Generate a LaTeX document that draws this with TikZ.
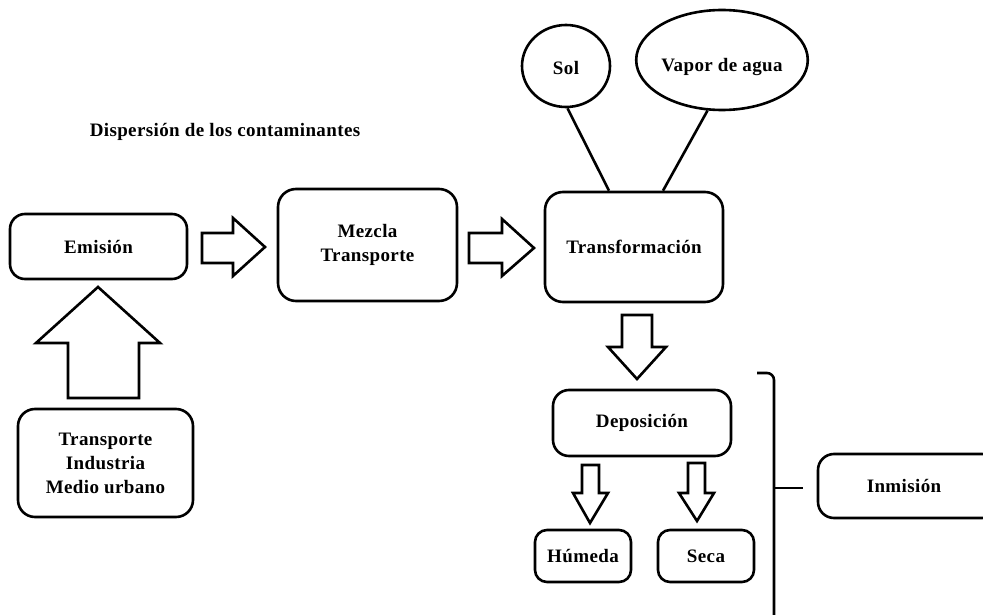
\documentclass[tikz,border=0pt]{standalone}
\usepackage{fontspec}
\setmainfont{Liberation Serif}[LetterSpace=2]
\usetikzlibrary{shapes.geometric}
\begin{document}
\begin{tikzpicture}[x=1pt,y=-1pt,line width=2.6pt,
  txt/.style={font=\fontsize{19}{24}\selectfont\bfseries, align=center, inner sep=0pt},
  box/.style={txt, draw, rounded corners=#1},
  box/.default=14pt,
  oval/.style={txt, draw, ellipse, inner sep=0pt},
  blk/.style={draw, fill=white, line join=miter},
  conn/.style={draw}]
\useasboundingbox (0,0) rectangle (983,615);
\clip (0,0) rectangle (983,615);

% title
\node[txt] (title) at (225,132) {Dispersión de los contaminantes};

% boxes
\node[box=15pt, minimum width=177pt, minimum height=65pt] (emi) at (98.5,246.5) {Emisión};
\node[box=18pt, minimum width=179pt, minimum height=112pt] (mez) at (367.5,245) {Mezcla\\Transporte};
\node[box=18pt, minimum width=178pt, minimum height=110pt] (tra) at (634,247) {Transformación};
\node[box=17pt, minimum width=175pt, minimum height=108pt] (src) at (105.5,463) {Transporte\\Industria\\Medio urbano};
\node[box=16pt, minimum width=178pt, minimum height=66pt] (dep) at (642,423) {Deposición};
\node[box=12pt, minimum width=96pt, minimum height=52pt] (hum) at (583,556) {Húmeda};
\node[box=12pt, minimum width=96pt, minimum height=52pt] (sec) at (706,556) {Seca};
\node[box=16pt, minimum width=180pt, minimum height=64pt] (inm) at (908,486) {\hspace*{-8pt}Inmisión};

% ellipses
\node[oval, minimum width=88pt, minimum height=82pt, text height=18pt, text depth=0pt] (sol) at (566,66) {Sol};
\node[oval, minimum width=166pt, minimum height=100pt, text height=24pt, text depth=0pt] (vap) at (722,60) {Vapor de agua};

% connectors
\draw[conn] (sol.272) -- ([xshift=-25pt]tra.north);
\draw[conn] (vap.254) -- ([xshift=29pt]tra.north);

% bracket
\coordinate (brkA) at (757,373);
\coordinate (brkB) at (774,373);
\coordinate (brkC) at (774,640);
\coordinate (brkT) at (774,488);
\draw[conn, rounded corners=7pt] (brkA) -- (brkB) -- (brkC);
\draw[conn] (brkT) -- ([xshift=-14pt]inm.west |- brkT);

% block arrows
\draw[blk] (202,233) -- (233,233) -- (233,218) -- (265,247) -- (233,276) -- (233,263) -- (202,263) -- cycle;
\draw[blk] (469,233) -- (502,233) -- (502,219) -- (534,248) -- (502,276) -- (502,263) -- (469,263) -- cycle;
\draw[blk] (68,398) -- (68,343) -- (36,343) -- (98,287) -- (160,343) -- (139,343) -- (139,398) -- cycle;
\draw[blk] (622,315) -- (652,315) -- (652,347) -- (666,347) -- (637,379) -- (608,347) -- (622,347) -- cycle;
\draw[blk] (582,465) -- (599,465) -- (599,493) -- (608,493) -- (590,523) -- (573,493) -- (582,493) -- cycle;
\draw[blk] (688,463) -- (705,463) -- (705,493) -- (714,493) -- (697,521) -- (679,493) -- (688,493) -- cycle;
\end{tikzpicture}
\end{document}
